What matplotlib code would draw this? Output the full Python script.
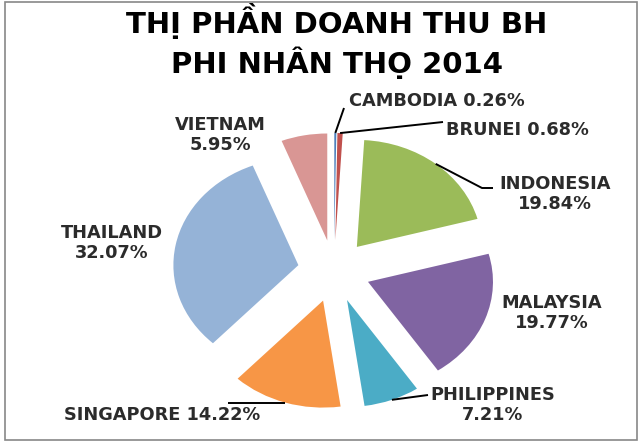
import numpy as np
import matplotlib
matplotlib.use("Agg")
import matplotlib.pyplot as plt
from matplotlib.patches import Rectangle

countries = ["CAMBODIA", "BRUNEI", "INDONESIA", "MALAYSIA", "PHILIPPINES",
             "SINGAPORE", "THAILAND", "VIETNAM"]
shares = [0.26, 0.68, 19.84, 19.77, 7.21, 14.22, 32.07, 5.95]
share_labels = ["0.26%", "0.68%", "19.84%", "19.77%", "7.21%", "14.22%", "32.07%", "5.95%"]
colors = ["#4F81BD", "#C0504D", "#9BBB59", "#8064A2", "#4BACC6", "#F79646", "#95B3D7", "#D99694"]
title = "THỊ PHẦN DOANH THU BH\nPHI NHÂN THỌ 2014"

W, H = 640, 445
CX, CY, RX, RY = 334, 271, 125, 107

plt.rcParams['font.family'] = ['DejaVu Sans']

fig = plt.figure(figsize=(W / 100, H / 100), dpi=100)
ax = fig.add_axes([0, 0, 1, 1])

def p2d(px, py):
    return ((px - CX) / RX, (CY - py) / RY)

wedges, _ = ax.pie(shares, explode=[0.29] * len(shares), colors=colors,
                   startangle=90, counterclock=False, radius=1,
                   wedgeprops=dict(linewidth=0))
ax.set_aspect('auto')
ax.set_xlim(-CX / RX, (W - CX) / RX)
ax.set_ylim((CY - H) / RY, CY / RY)
ax.axis('off')

def anchor(i, frac=0.5, rr=1.0):
    w = wedges[i]
    th = np.deg2rad(w.theta1 + frac * (w.theta2 - w.theta1))
    return (w.center[0] + rr * w.r * np.cos(th), w.center[1] + rr * w.r * np.sin(th))

lk = dict(color="black", lw=1.4, solid_capstyle="butt")
tk = dict(fontsize=12.8, fontweight="bold", color="#2b2b2b")

def line(pts):
    xs, ys = zip(*pts)
    ax.plot(xs, ys, **lk)

# Cambodia
line([anchor(0), p2d(344, 108)])
ax.text(*p2d(349, 101), f"{countries[0]} {share_labels[0]}", ha="left", va="center", **tk)
# Brunei
line([anchor(1), p2d(443, 122)])
ax.text(*p2d(446, 130), f"{countries[1]} {share_labels[1]}", ha="left", va="center", **tk)
# Indonesia
line([anchor(2), p2d(482, 188), p2d(493, 188)])
ax.text(*p2d(555, 194), f"{countries[2]}\n{share_labels[2]}", ha="center", va="center",
        linespacing=1.15, **tk)
# Malaysia
ax.text(*p2d(552, 313), f"{countries[3]}\n{share_labels[3]}", ha="center", va="center",
        linespacing=1.15, **tk)
# Philippines
line([anchor(4), p2d(428, 395)])
ax.text(*p2d(493, 405), f"{countries[4]}\n{share_labels[4]}", ha="center", va="center",
        linespacing=1.15, **tk)
# Singapore
a5 = anchor(5)
line([a5, (p2d(228, 0)[0], a5[1])])
ax.text(*p2d(64, 415), f"{countries[5]} {share_labels[5]}", ha="left", va="center", **tk)
# Thailand
ax.text(*p2d(112, 243), f"{countries[6]}\n{share_labels[6]}", ha="center", va="center",
        linespacing=1.15, **tk)
# Vietnam
ax.text(*p2d(220, 135), f"{countries[7]}\n{share_labels[7]}", ha="center", va="center",
        linespacing=1.15, **tk)

fig.text(337 / W, 1 - 41 / H, title, ha="center", va="center", fontsize=21,
         fontweight="bold", color="black", linespacing=1.25)

fig.patches.append(Rectangle((5 / W, 5 / H), 632 / W, 438 / H, transform=fig.transFigure,
                             fill=False, edgecolor="#888888", lw=1.2))

fig.savefig("out.png", dpi=100)
